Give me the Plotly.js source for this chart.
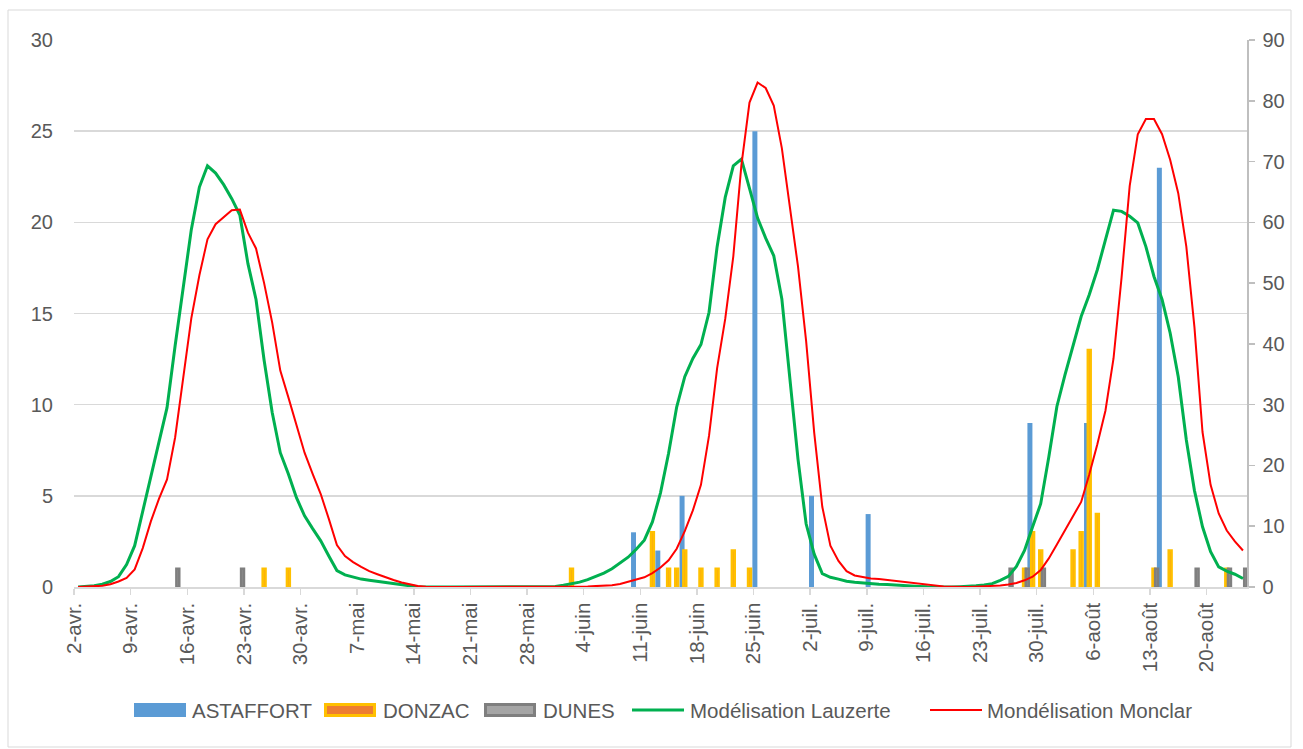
<!DOCTYPE html>
<html>
<head>
<meta charset="utf-8">
<script src="https://cdn.plot.ly/plotly-3.0.1.min.js"></script>
<style>
  html, body { margin: 0; padding: 0; background: #ffffff; }
  #chart { width: 1303px; height: 749px; }
</style>
</head>
<body>
<div id="chart"></div>
<script>
// ---------- DATA ----------
const startDate = '2023-04-02';   // first day of the daily series (2-avr.)

// Daily modelled values (right axis), one per day from 2-avr. to 24-août
const lauzerte = [
  0, 0.05, 0.2, 0.45, 0.9, 1.7, 3.7, 6.8, 12.4, 18.4,
  24, 29.5, 39.7, 49.5, 58.8, 65.8, 69.3, 68.1, 66.2, 63.9,
  61.2, 53.2, 47.3, 37.3, 28.7, 22.1, 18.6, 14.7, 11.7, 9.6,
  7.6, 5.1, 2.7, 2.0, 1.6, 1.3, 1.1, 0.9, 0.75, 0.6,
  0.4, 0.2, 0.05, 0, 0, 0, 0, 0, 0, 0,
  0, 0, 0, 0, 0, 0, 0, 0, 0, 0.1,
  0.3, 0.5, 0.8, 1.2, 1.7, 2.3, 3.0, 3.9, 4.9, 6.2,
  7.7, 10.7, 15.5, 22, 29.6, 34.6, 37.6, 39.9, 45.2, 56,
  64.1, 69.3, 70.4, 65.6, 60.7, 57.4, 54.5, 47.4, 34, 21,
  10.4, 5.4, 2.2, 1.6, 1.3, 0.95, 0.8, 0.65, 0.5, 0.45,
  0.4, 0.3, 0.2, 0.15, 0.1, 0.05, 0, 0, 0, 0.05,
  0.1, 0.2, 0.35, 0.55, 1.1, 1.75, 3.4, 6, 9.9, 13.7,
  21.4, 29.7, 34.9, 39.6, 44.5, 48.1, 52.2, 57.1, 62, 61.8,
  61, 59.9, 56, 51.1, 47.3, 41.8, 34.6, 24.2, 15.9, 9.9,
  5.8, 3.3, 2.6, 2.1, 1.4
];
const monclar = [
  0, 0.05, 0.1, 0.2, 0.45, 0.9, 1.5, 2.9, 6.4, 10.8,
  14.5, 17.7, 24.6, 34.4, 44.2, 51.3, 57.2, 59.7, 60.9, 62,
  62.1, 58.3, 55.7, 50, 43.5, 35.6, 31.2, 26.7, 22.1, 18.6,
  15.3, 11.2, 6.9, 5.1, 4.1, 3.3, 2.6, 2.1, 1.6, 1.15,
  0.75, 0.4, 0.15, 0.05, 0, 0, 0, 0, 0, 0,
  0, 0, 0, 0, 0, 0, 0, 0, 0, 0,
  0, 0.05, 0.05, 0.1, 0.15, 0.2, 0.3, 0.5, 0.85, 1.2,
  1.6, 2.3, 3.2, 4.4, 6.3, 9.2, 12.6, 16.8, 24.9, 36,
  44.1, 54.4, 69.4, 79.7, 83, 82.1, 79.2, 72.2, 62.2, 52.7,
  40.5, 25.4, 13.2, 6.8, 4.3, 2.6, 1.9, 1.6, 1.4, 1.3,
  1.15, 1.0, 0.8, 0.6, 0.45, 0.3, 0.2, 0.1, 0.05, 0,
  0, 0.05, 0.1, 0.15, 0.25, 0.4, 0.65, 1.1, 1.7, 2.8,
  4.7, 7, 9.3, 11.5, 14, 18.5, 23.5, 29, 37.6, 51,
  66, 74.5, 77, 77, 74.5, 70.3, 64.8, 56, 42.8, 25.5,
  16.8, 12.1, 9.3, 7.5, 6.0
];

// Observed counts (left axis)
const astaffortDates = ['2023-06-10','2023-06-13','2023-06-16','2023-06-25','2023-07-02','2023-07-09','2023-07-29','2023-08-05','2023-08-14'];
const astaffortValues = [3, 2, 5, 25, 5, 4, 9, 9, 23];

const donzacDates = ['2023-04-25','2023-04-28','2023-06-02','2023-06-12','2023-06-14','2023-06-15','2023-06-16','2023-06-18','2023-06-20','2023-06-22','2023-06-24',
                     '2023-07-28','2023-07-29','2023-07-30','2023-08-03','2023-08-04','2023-08-05','2023-08-06','2023-08-13','2023-08-15','2023-08-22'];
const donzacValues = [1, 1, 1, 3, 1, 1, 2, 1, 1, 2, 1, 1, 3, 2, 2, 3, 13, 4, 1, 2, 1];

const dunesDates = ['2023-04-14','2023-04-22','2023-07-26','2023-07-28','2023-07-30','2023-08-13','2023-08-18','2023-08-22','2023-08-24'];
const dunesValues = [1, 1, 1, 1, 1, 1, 1, 1, 1];

// X tick labels (weekly)
const tickDates = ['2023-04-02','2023-04-09','2023-04-16','2023-04-23','2023-04-30','2023-05-07','2023-05-14','2023-05-21','2023-05-28',
                   '2023-06-04','2023-06-11','2023-06-18','2023-06-25','2023-07-02','2023-07-09','2023-07-16','2023-07-23','2023-07-30',
                   '2023-08-06','2023-08-13','2023-08-20'];
const tickLabels = ['2-avr.','9-avr.','16-avr.','23-avr.','30-avr.','7-mai','14-mai','21-mai','28-mai',
                    '4-juin','11-juin','18-juin','25-juin','2-juil.','9-juil.','16-juil.','23-juil.','30-juil.',
                    '6-août','13-août','20-août'];

const seriesNames = ['ASTAFFORT', 'DONZAC', 'DUNES', 'Modélisation Lauzerte', 'Mondélisation Monclar'];

// ---------- BUILD ----------
const DAY = 86400000;
function pad(n) { return (n < 10 ? '0' : '') + n; }
function dailyDates(start, n) {
  const t0 = Date.parse(start + 'T00:00:00Z');
  const out = [];
  for (let i = 0; i < n; i++) {
    const d = new Date(t0 + i * DAY);
    out.push(d.getUTCFullYear() + '-' + pad(d.getUTCMonth() + 1) + '-' + pad(d.getUTCDate()) + ' 12:00');
  }
  return out;
}
const noon = arr => arr.map(s => s + ' 12:00');
const lineDates = dailyDates(startDate, lauzerte.length);
const endDate = (function () {
  const d = new Date(Date.parse(startDate + 'T00:00:00Z') + lauzerte.length * DAY);
  return d.getUTCFullYear() + '-' + pad(d.getUTCMonth() + 1) + '-' + pad(d.getUTCDate());
})();

const pxPerDay = 1173 / lauzerte.length;
const dayFrac = px => px / pxPerDay;

const colors = {
  astaffort: '#5B9BD5', donzacFill: '#ED7D31', donzacLine: '#FFC000',
  dunesFill: '#A5A5A5', dunesLine: '#7F7F7F', lauzerte: '#00B050', monclar: '#FF0000'
};

const traces = [
  {
    type: 'bar', name: seriesNames[0], x: noon(astaffortDates), y: astaffortValues,
    width: dayFrac(5) * DAY, offset: (dayFrac(-2.7) - dayFrac(5) / 2) * DAY,
    marker: { color: colors.astaffort, line: { width: 0 } }, yaxis: 'y', showlegend: false
  },
  {
    type: 'bar', name: seriesNames[1], x: noon(donzacDates), y: donzacValues,
    width: dayFrac(2.8) * DAY, offset: (0 - dayFrac(2.8) / 2) * DAY,
    marker: { color: colors.donzacFill, line: { color: colors.donzacLine, width: 2.6 } }, yaxis: 'y', showlegend: false
  },
  {
    type: 'bar', name: seriesNames[2], x: noon(dunesDates), y: dunesValues,
    width: dayFrac(2.8) * DAY, offset: (dayFrac(2.7) - dayFrac(2.8) / 2) * DAY,
    marker: { color: colors.dunesFill, line: { color: colors.dunesLine, width: 2.6 } }, yaxis: 'y', showlegend: false
  },
  {
    type: 'scatter', mode: 'lines', name: seriesNames[3], x: lineDates, y: lauzerte,
    line: { color: colors.lauzerte, width: 3 }, yaxis: 'y2', showlegend: false
  },
  {
    type: 'scatter', mode: 'lines', name: seriesNames[4], x: lineDates, y: monclar,
    line: { color: colors.monclar, width: 2 }, yaxis: 'y2', showlegend: false
  }
];

const FONT = 'Liberation Sans, Arial, sans-serif';
const toPX = px => (px - 74) / 1173;
const toPY = py => (587 - py) / 547;

// Legend drawn below the plot (swatch + label per series)
const legendItems = [
  { name: seriesNames[0], kind: 'box', x0: 134, fill: colors.astaffort, line: colors.astaffort, lw: 0, tx: 190 },
  { name: seriesNames[1], kind: 'box', x0: 324, fill: colors.donzacFill, line: colors.donzacLine, lw: 3, tx: 381 },
  { name: seriesNames[2], kind: 'box', x0: 484, fill: colors.dunesFill, line: colors.dunesLine, lw: 3, tx: 541 },
  { name: seriesNames[3], kind: 'line', x0: 632, line: colors.lauzerte, lw: 3, tx: 688 },
  { name: seriesNames[4], kind: 'line', x0: 930, line: colors.monclar, lw: 2, tx: 985 }
];
const legendY = 710;
const shapes = [{
  type: 'rect', xref: 'paper', yref: 'paper',
  x0: toPX(8), x1: toPX(1291), y0: toPY(747), y1: toPY(10),
  line: { color: '#D9D9D9', width: 1 }, fillcolor: 'rgba(0,0,0,0)', layer: 'below'
}];
const annotations = [];
legendItems.forEach(it => {
  if (it.kind === 'box') {
    const inset = it.lw / 2;
    shapes.push({
      type: 'rect', xref: 'paper', yref: 'paper',
      x0: toPX(it.x0 + inset), x1: toPX(it.x0 + 52 - inset),
      y0: toPY(legendY + 7 - inset), y1: toPY(legendY - 7 + inset),
      fillcolor: it.fill, line: { color: it.line, width: it.lw }
    });
  } else {
    shapes.push({
      type: 'line', xref: 'paper', yref: 'paper',
      x0: toPX(it.x0), x1: toPX(it.x0 + 52), y0: toPY(legendY), y1: toPY(legendY),
      line: { color: it.line, width: it.lw }
    });
  }
  annotations.push({
    xref: 'paper', yref: 'paper', x: toPX(it.tx), y: toPY(legendY),
    xanchor: 'left', yanchor: 'middle', showarrow: false, text: it.name,
    font: { family: FONT, size: 20.5, color: '#595959' }
  });
});

const layout = {
  width: 1303, height: 749,
  margin: { l: 74, r: 56, t: 40, b: 162 },
  paper_bgcolor: '#ffffff', plot_bgcolor: '#ffffff',
  font: { family: FONT, color: '#595959', size: 20 },
  barmode: 'overlay',
  hovermode: false,
  showlegend: false,
  xaxis: {
    type: 'date', range: [startDate, endDate],
    tickmode: 'array', tickvals: tickDates, ticktext: tickLabels, tickangle: -90,
    ticks: 'outside', ticklen: 6, tickcolor: '#D9D9D9', tickwidth: 1.5,
    showline: true, linecolor: '#D9D9D9', linewidth: 1.5,
    showgrid: false, zeroline: false,
    tickfont: { family: FONT, size: 20.5, color: '#595959' }
  },
  yaxis: {
    range: [0, 30], dtick: 5, tick0: 0,
    showgrid: true, gridcolor: '#D9D9D9', gridwidth: 1.5,
    showline: false, zeroline: false, ticks: '',
    ticklabelstandoff: 20,
    tickfont: { family: FONT, size: 20, color: '#595959' }
  },
  yaxis2: {
    overlaying: 'y', side: 'right', range: [0, 90], dtick: 10, tick0: 0,
    showgrid: false, zeroline: false,
    showline: true, linecolor: '#BFBFBF', linewidth: 1.5,
    ticks: 'outside', ticklen: 6, tickcolor: '#BFBFBF', tickwidth: 1.5,
    ticklabelstandoff: 4,
    tickfont: { family: FONT, size: 20, color: '#595959' }
  },
  shapes: shapes,
  annotations: annotations
};

Plotly.newPlot('chart', traces, layout, { staticPlot: true, displayModeBar: false });
</script>
</body>
</html>
